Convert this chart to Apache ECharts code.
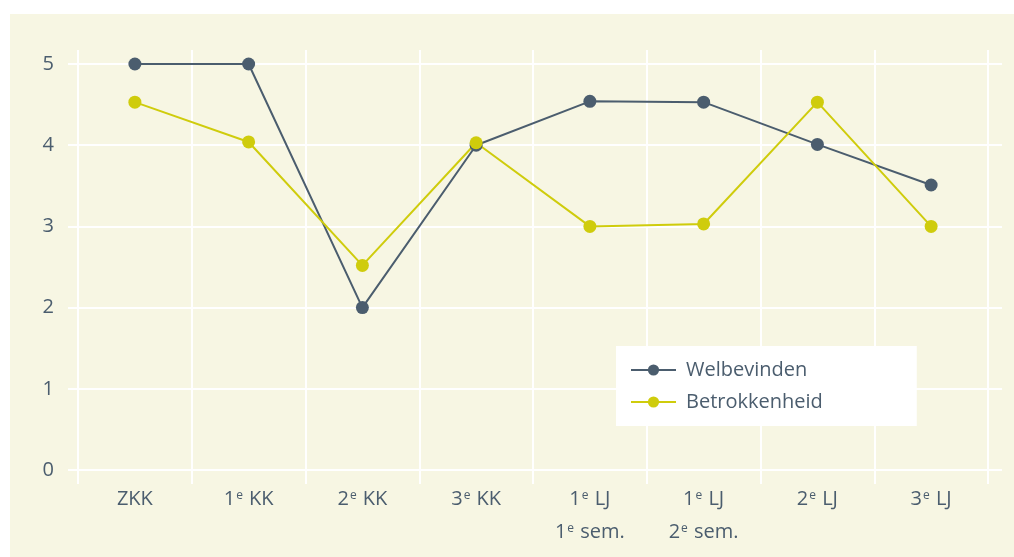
<!DOCTYPE html>
<html>
<head>
<meta charset="utf-8">
<script src="https://cdn.jsdelivr.net/npm/echarts@6/dist/echarts.min.js"></script>
<style>
	html, body { margin: 0; padding: 0; background: #fff; }
	#chart { width: 1014px; height: 557px; }
</style>
</head>
<body>
<div id="chart"></div>
<script>
// categories: [number, rest of line 1, second line]
const categories = [
	['', 'ZKK', ''],
	['1', ' KK', ''],
	['2', ' KK', ''],
	['3', ' KK', ''],
	['1', ' LJ', '1|sem.'],
	['1', ' LJ', '2|sem.'],
	['2', ' LJ', ''],
	['3', ' LJ', ''],
];
const welbevinden = [5, 5, 2, 4, 4.54, 4.53, 4.01, 3.51];
const betrokkenheid = [4.53, 4.04, 2.52, 4.03, 3.0, 3.03, 4.53, 3.0];
const yTicks = [0, 1, 2, 3, 4, 5];

const DARK = '#4b5d6e';
const YELLOW = '#cfcc0c';
const CREAM = '#f7f6e3';
const TEXT = '#4b5d6e';

// each label is built from the row in categories; superscript e goes in its own rich style
const fmtLabel = (_, i) => {
	const [num, rest, second] = categories[i];
	let line1 = num ? `{n|${num}}{s|e}{n|${rest}}` : `{n|${rest}}`;
	if (second) {
		const [n2, r2] = second.split('|');
		line1 += `\n{n|${n2}}{s|e}{n| ${r2}}`;
	}
	return line1;
};

const chart = echarts.init(document.getElementById('chart'));
chart.setOption({
	backgroundColor: '#fff',
	animation: false,
	textStyle: { fontFamily: 'Open Sans' },
	graphic: [{
		type: 'rect',
		z: -10,
		shape: { x: 10, y: 14, width: 1004, height: 543 },
		style: { fill: CREAM },
		silent: true,
	}],
	// grid 0 holds the data, grid 1 only draws the taller vertical lines behind it
	grid: [
		{ left: 78, right: 26, top: 64, bottom: 87 },
		{ left: 78, right: 26, top: 50, bottom: 73 },
	],
	legend: {
		orient: 'vertical',
		left: 616,
		top: 346,
		backgroundColor: '#fff',
		padding: [14, 94, 14, 14],
		itemGap: 12,
		itemWidth: 45,
		itemHeight: 14,
		textStyle: { color: TEXT, fontSize: 20, lineHeight: 20, fontFamily: 'Open Sans', padding: [0, 0, 0, 5] },
		data: ['Welbevinden', 'Betrokkenheid'],
	},
	xAxis: [{
		type: 'category',
		gridIndex: 0,
		data: categories.map(c => c[1]),
		boundaryGap: true,
		axisLine: { show: false },
		axisTick: { show: false },
		splitLine: { show: false },
		axisLabel: {
			interval: 0,
			margin: 13,
			formatter: fmtLabel,
			color: TEXT,
			rich: {
				n: { fontSize: 20, color: TEXT, lineHeight: 33, fontFamily: 'Open Sans' },
				s: { fontSize: 12, color: TEXT, lineHeight: 12, verticalAlign: 'top', padding: [7, 1, 0, 1], fontFamily: 'Open Sans' },
			},
		},
	}, {
		type: 'category',
		gridIndex: 1,
		data: categories.map(c => c[1]),
		boundaryGap: true,
		axisLine: { show: false },
		axisTick: { show: false },
		splitLine: { show: true, interval: 0, lineStyle: { color: '#fff', width: 2 } },
		axisLabel: { show: false },
	}],
	yAxis: [{
		type: 'value',
		gridIndex: 0,
		min: yTicks[0],
		max: yTicks[yTicks.length - 1],
		interval: 1,
		axisLine: { show: false },
		axisTick: { show: true, length: 10, lineStyle: { color: '#fff', width: 2 } },
		splitLine: { show: true, lineStyle: { color: '#fff', width: 2 } },
		axisLabel: { margin: 24, color: TEXT, fontSize: 20, fontFamily: 'Open Sans' },
	}, {
		type: 'value',
		gridIndex: 0,
		position: 'right',
		min: yTicks[0],
		max: yTicks[yTicks.length - 1],
		interval: 1,
		axisLine: { show: false },
		axisTick: { show: true, length: 14, lineStyle: { color: '#fff', width: 2 } },
		splitLine: { show: false },
		axisLabel: { show: false },
	}, {
		type: 'value',
		gridIndex: 1,
		show: false,
	}],
	series: [{
		name: 'Welbevinden',
		type: 'line',
		data: welbevinden,
		symbol: 'circle',
		symbolSize: 13,
		lineStyle: { color: DARK, width: 2 },
		itemStyle: { color: DARK },
	}, {
		name: 'Betrokkenheid',
		type: 'line',
		data: betrokkenheid,
		symbol: 'circle',
		symbolSize: 13,
		lineStyle: { color: YELLOW, width: 2 },
		itemStyle: { color: YELLOW },
	}],
});
</script>
</body>
</html>
